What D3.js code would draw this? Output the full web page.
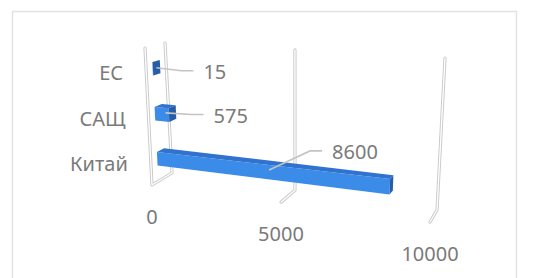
<!DOCTYPE html>
<html>
<head>
<meta charset="utf-8">
<script src="https://cdn.jsdelivr.net/npm/d3@7"></script>
<style>
  body { margin: 0; background: #fff; }
  text { font-family: "Noto Sans", "Liberation Sans", sans-serif; fill: #7a7a7a; }
</style>
</head>
<body>
<svg id="chart" width="547" height="278"></svg>
<script>
// data, bottom to top
var categories = ["Китай", "САЩ", "ЕС"];
var values = [8600, 575, 15];
var tickValues = [0, 5000, 10000];
var tickLabels = ["0", "5000", "10000"];

var svg = d3.select("#chart");

// chart frame
svg.append("rect")
    .attr("x", 12.5).attr("y", 11.5)
    .attr("width", 504).attr("height", 300)
    .attr("fill", "#fff")
    .attr("stroke", "#e2e2e2")
    .attr("stroke-width", 1.5);

// ---- fake 3d: value (u), height (h, 0 bottom), depth (z, 0 front) ----
var xScale = d3.scaleLinear().domain([0, 10000]).range([0, 1]);
var yBand = d3.scaleBand().domain(categories).range([0, 1])
    .paddingInner(0.7).paddingOuter(0.35);
var zFront = 0.32, zBack = 0.68;

// screen corners of the plot box [u][z][h]
var box = {
    "000": [152, 185], "001": [145, 48], "010": [172, 173], "011": [165, 43],
    "100": [430, 222], "101": [438, 63], "110": [437, 210], "111": [445, 58]
};
function persp(t) { return t / (t + 1.155 * (1 - t)); }
function lerp(a, b, t) { return [a[0] + (b[0] - a[0]) * t, a[1] + (b[1] - a[1]) * t]; }
function project(v, h, z) {
    var u = persp(xScale(v));
    function side(i) {
        var f = lerp(box[i + "00"], box[i + "01"], h);
        var b = lerp(box[i + "10"], box[i + "11"], h);
        return lerp(f, b, z);
    }
    return lerp(side(0), side(1), u);
}
var line = d3.line();

// ---- gridlines (double stroke look) ----
var grid = svg.append("g").attr("class", "grid");
function doubleLine(pts) {
    grid.append("path").attr("d", line(pts))
        .attr("fill", "none").attr("stroke", "#c9c9c9").attr("stroke-width", 3.2)
        .attr("stroke-linecap", "round").attr("stroke-linejoin", "round");
    grid.append("path").attr("d", line(pts))
        .attr("fill", "none").attr("stroke", "#fff").attr("stroke-width", 1.3)
        .attr("stroke-linecap", "round").attr("stroke-linejoin", "round");
}
tickValues.forEach(function (v, i) {
    var pts = [project(v, 1, 1), project(v, 0, 1), project(v, 0, 0)];
    if (i === 0) pts.push(project(v, 1, 0));
    doubleLine(pts);
});

// ---- bars ----
var bars = svg.append("g").attr("class", "bars");
categories.forEach(function (c, i) {
    var v = values[i];
    var y0 = yBand(c), y1 = y0 + yBand.bandwidth();
    var g = bars.append("g").attr("class", "bar");
    g.append("path")
        .attr("d", line([project(0, y0, zFront), project(v, y0, zFront), project(v, y1, zFront), project(0, y1, zFront)]) + "Z")
        .attr("fill", "#3b8ce8");
    g.append("path")
        .attr("d", line([project(0, y1, zFront), project(v, y1, zFront), project(v, y1, zBack), project(0, y1, zBack)]) + "Z")
        .attr("fill", "#2f72cf");
    g.append("path")
        .attr("d", line([project(v, y0, zFront), project(v, y1, zFront), project(v, y1, zBack), project(v, y0, zBack)]) + "Z")
        .attr("fill", "#275da6");
});

// ---- data labels with leader lines ----
var maxV = d3.max(values);
var labels = svg.append("g").attr("class", "labels");
categories.forEach(function (c, i) {
    var v = values[i];
    var f = v / maxV;
    var a = project(v / 2, yBand(c) + yBand.bandwidth() / 2, 0.5);
    var bend = [a[0] + 25 + 16 * f, a[1] + 3 - 22 * f];
    labels.append("path")
        .attr("d", line([a, bend, [bend[0] + 12, bend[1]]]))
        .attr("fill", "none").attr("stroke", "#c4c4c4").attr("stroke-width", 1.6);
    labels.append("text")
        .attr("x", bend[0] + 22).attr("y", bend[1] + 1)
        .attr("dominant-baseline", "central")
        .style("font-size", "20px")
        .text(v);
});

// ---- category labels ----
categories.forEach(function (c) {
    var p = project(0, yBand(c) + yBand.bandwidth() / 2, 0);
    svg.append("text")
        .attr("x", p[0] - 23).attr("y", p[1] + 1.5)
        .attr("text-anchor", "end")
        .attr("dominant-baseline", "central")
        .style("font-size", "20px")
        .text(c);
});

// ---- value axis labels ----
tickValues.forEach(function (v, i) {
    var p = project(v, 0, 0);
    svg.append("text")
        .attr("x", p[0]).attr("y", p[1] + 31)
        .attr("text-anchor", "middle")
        .attr("dominant-baseline", "central")
        .style("font-size", "20px")
        .text(tickLabels[i]);
});
</script>
</body>
</html>
